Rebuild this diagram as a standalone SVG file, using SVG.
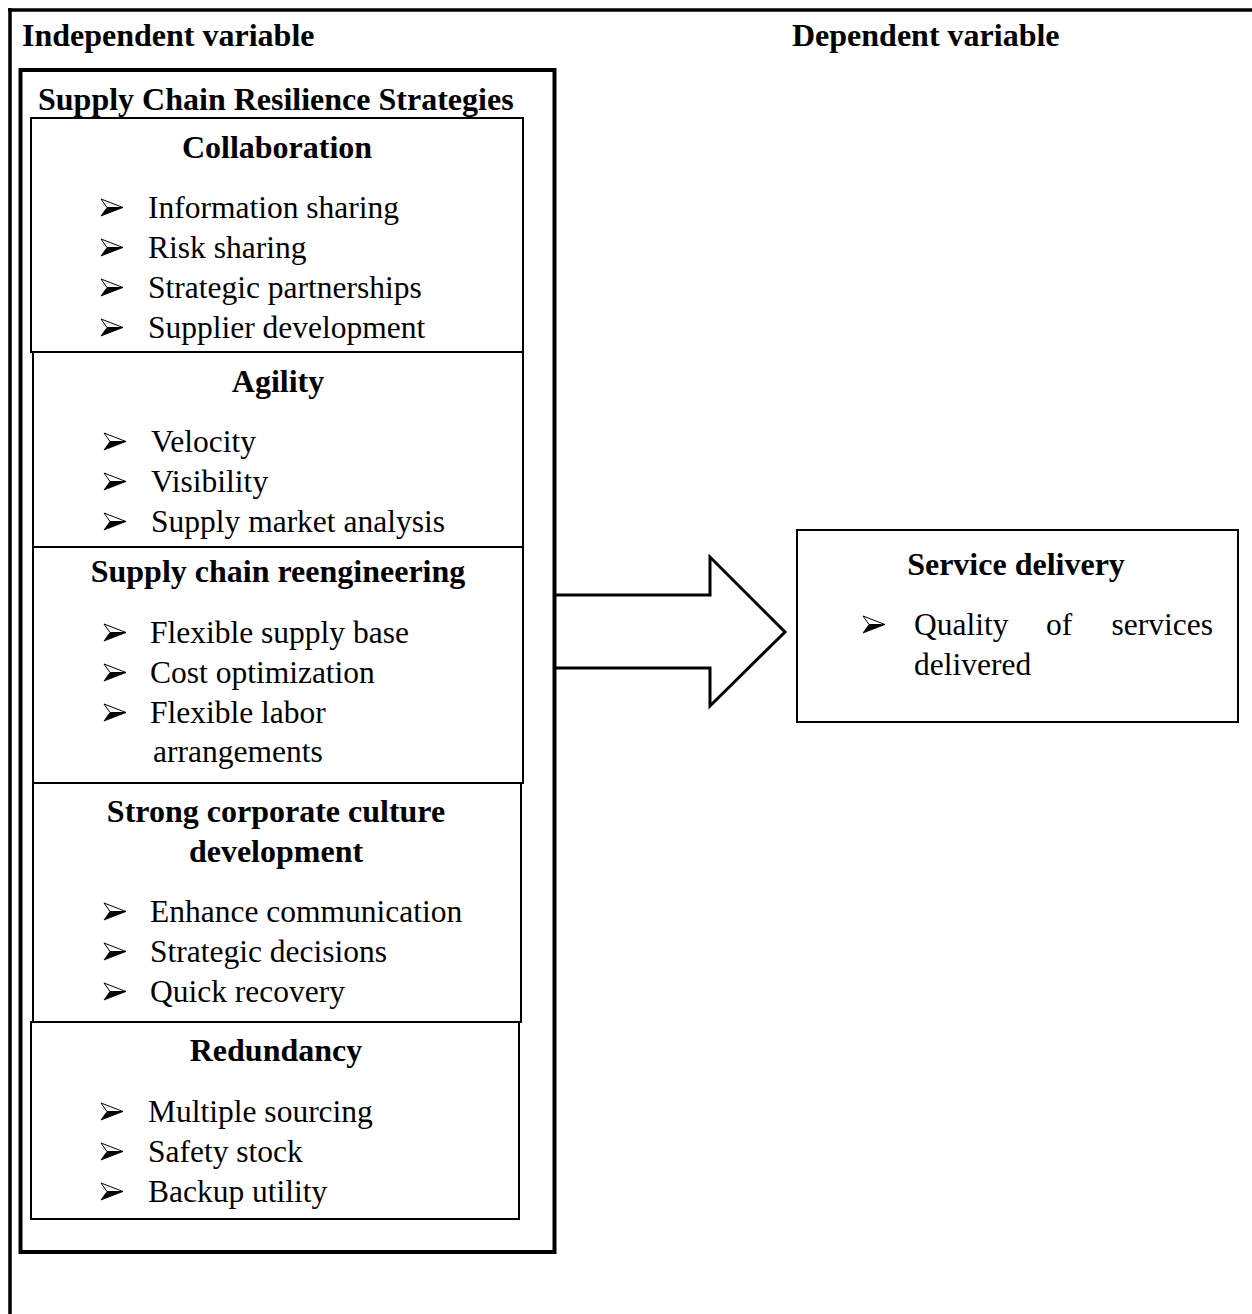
<svg xmlns="http://www.w3.org/2000/svg" width="1252" height="1314" viewBox="0 0 1252 1314">
<style>
.hd{font-family:"Liberation Serif","Times New Roman",serif;font-weight:bold;font-size:32px;fill:#000}
.it{font-family:"Liberation Serif","Times New Roman",serif;font-size:31.5px;fill:#000}
.box{fill:none;stroke:#000;stroke-width:2}
</style>
<defs>
<g id="bul">
<path d="M0,0 L22,8.5 L6,8.5 Z" fill="#fff" stroke="#000" stroke-width="1" stroke-linejoin="miter"/>
<path d="M6,8.5 L22,8.5 L0,17 Z" fill="#000" stroke="#000" stroke-width="0.8"/>
</g>
</defs>
<rect width="1252" height="1314" fill="#fff"/>
<g id="frame">
<line x1="8" y1="10" x2="1252" y2="10" stroke="#000" stroke-width="3.5"/>
<line x1="10" y1="8" x2="10" y2="1314" stroke="#000" stroke-width="3.5"/>
<text class="hd" x="22" y="46">Independent variable</text>
<text class="hd" x="792" y="46">Dependent variable</text>
</g>
<g id="connectors">
<path d="M556,595 H710 V557 L785,632 L710,706 V668 H556" fill="#fff" stroke="#000" stroke-width="3"/>
</g>
<g id="strategies">
<rect x="20.5" y="70" width="534" height="1182" fill="none" stroke="#000" stroke-width="4"/>
<text class="hd" x="38" y="110">Supply Chain Resilience Strategies</text>
</g>
<g id="collaboration">
<rect class="box" x="31" y="118" width="492" height="234"/>
<text class="hd" x="277" y="158" text-anchor="middle">Collaboration</text>
<use href="#bul" x="101" y="199"/><text class="it" x="148" y="218">Information sharing</text>
<use href="#bul" x="101" y="239"/><text class="it" x="148" y="258">Risk sharing</text>
<use href="#bul" x="101" y="279"/><text class="it" x="148" y="298">Strategic partnerships</text>
<use href="#bul" x="101" y="319"/><text class="it" x="148" y="338">Supplier development</text>
</g>
<g id="agility">
<rect class="box" x="33" y="352" width="490" height="195"/>
<text class="hd" x="278" y="392" text-anchor="middle">Agility</text>
<use href="#bul" x="104" y="433"/><text class="it" x="151" y="452">Velocity</text>
<use href="#bul" x="104" y="473"/><text class="it" x="151" y="492">Visibility</text>
<use href="#bul" x="104" y="513"/><text class="it" x="151" y="532">Supply market analysis</text>
</g>
<g id="reengineering">
<rect class="box" x="33" y="547" width="490" height="236"/>
<text class="hd" x="278" y="582" text-anchor="middle">Supply chain reengineering</text>
<use href="#bul" x="104" y="624"/><text class="it" x="150" y="643">Flexible supply base</text>
<use href="#bul" x="104" y="664"/><text class="it" x="150" y="683">Cost optimization</text>
<use href="#bul" x="104" y="704"/><text class="it" x="150" y="723">Flexible labor</text>
<text class="it" x="153" y="762">arrangements</text>
</g>
<g id="culture">
<rect class="box" x="33" y="783" width="488" height="239"/>
<text class="hd" x="276" y="822" text-anchor="middle">Strong corporate culture</text>
<text class="hd" x="276" y="862" text-anchor="middle">development</text>
<use href="#bul" x="104" y="903"/><text class="it" x="150" y="922">Enhance communication</text>
<use href="#bul" x="104" y="943"/><text class="it" x="150" y="962">Strategic decisions</text>
<use href="#bul" x="104" y="983"/><text class="it" x="150" y="1002">Quick recovery</text>
</g>
<g id="redundancy">
<rect class="box" x="31" y="1022" width="488" height="197"/>
<text class="hd" x="276" y="1061" text-anchor="middle">Redundancy</text>
<use href="#bul" x="101" y="1103"/><text class="it" x="148" y="1122">Multiple sourcing</text>
<use href="#bul" x="101" y="1143"/><text class="it" x="148" y="1162">Safety stock</text>
<use href="#bul" x="101" y="1183"/><text class="it" x="148" y="1202">Backup utility</text>
</g>
<g id="service-delivery">
<rect class="box" x="797" y="530" width="441" height="192"/>
<text class="hd" x="1016" y="575" text-anchor="middle">Service delivery</text>
<use href="#bul" x="863" y="616"/>
<text class="it" x="914" y="635">Quality</text>
<text class="it" x="1059" y="635" text-anchor="middle">of</text>
<text class="it" x="1213" y="635" text-anchor="end">services</text>
<text class="it" x="914" y="675">delivered</text>
</g>
</svg>
